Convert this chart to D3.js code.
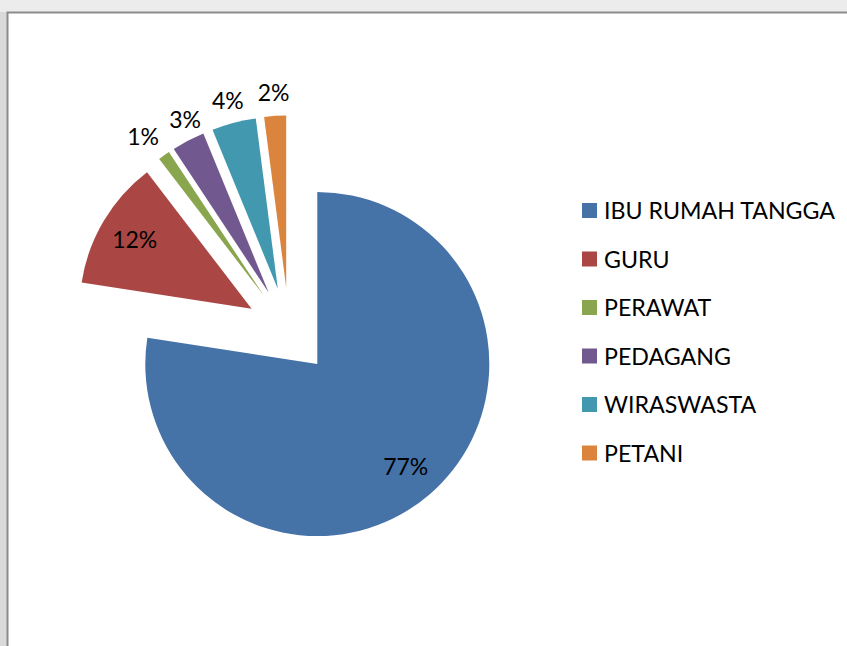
<!DOCTYPE html>
<html>
<head>
<meta charset="utf-8">
<script src="https://cdn.jsdelivr.net/npm/d3@7"></script>
<style>
  body { margin: 0; background: #e9e9e9; }
  svg { display: block; }
</style>
</head>
<body>
<div id="chart"></div>
<script>
const categories = ['IBU RUMAH TANGGA', 'GURU', 'PERAWAT', 'PEDAGANG', 'WIRASWASTA', 'PETANI'];
const values = [77.45, 12.15, 1.1, 3.1, 4.15, 2.05];
const colors = ['#4572a7', '#aa4643', '#89a54e', '#71588f', '#4198af', '#db843d'];

const width = 847, height = 646;
const radius = 172;
const explode = 43.5;
const cx = 289, cy = 331;

const svg = d3.select('#chart')
  .append('svg')
  .attr('width', width)
  .attr('height', height);

// page behind the chart frame
svg.append('rect')
  .attr('width', width).attr('height', height)
  .attr('fill', '#ececec');
svg.append('rect')
  .attr('x', 0).attr('y', 12).attr('width', 8).attr('height', height)
  .attr('fill', '#dadada');

// chart area with its border
svg.append('rect')
  .attr('x', 7.5).attr('y', 12.5)
  .attr('width', width + 10).attr('height', height + 10)
  .attr('fill', '#fff')
  .attr('stroke', '#8c8c8c')
  .attr('stroke-width', 2);

const total = d3.sum(values);
const data = categories.map((c, i) => ({ name: c, value: values[i], color: colors[i] }));

const pie = d3.pie()
  .sort(null)
  .value(d => d.value);

const arc = d3.arc()
  .innerRadius(0)
  .outerRadius(radius);

const graph = svg.append('g')
  .attr('transform', `translate(${cx}, ${cy})`);

const arcs = pie(data);

// every slice pushed out along its middle angle
const shift = d => {
  const a = (d.startAngle + d.endAngle) / 2;
  return [Math.sin(a) * explode, -Math.cos(a) * explode];
};

graph.selectAll('path')
  .data(arcs)
  .enter()
  .append('path')
  .attr('transform', d => `translate(${shift(d)})`)
  .attr('d', arc)
  .attr('fill', d => d.data.color);

// labels: big slices inside, small ones outside
const labels = arcs.map(d => {
  const a = (d.startAngle + d.endAngle) / 2;
  const inside = d.value / total > 0.1;
  const r = inside ? radius * 0.79 : radius + 23;
  const s = shift(d);
  return {
    inside,
    text: Math.round(d.value / total * 100) + '%',
    x: s[0] + Math.sin(a) * r,
    y: s[1] - Math.cos(a) * r
  };
});

// spread the outside labels so they don't crowd each other
const outer = labels.filter(l => !l.inside).sort((a, b) => a.x - b.x);
const minGap = 42;
for (let k = 0; k < 20; k++) {
  for (let i = 1; i < outer.length; i++) {
    const gap = outer[i].x - outer[i - 1].x;
    if (gap < minGap) {
      const push = (minGap - gap) / 2;
      outer[i - 1].x -= push;
      outer[i].x += push;
    }
  }
}

graph.selectAll('text')
  .data(labels)
  .enter()
  .append('text')
  .attr('x', d => d.x)
  .attr('y', d => d.y)
  .attr('dy', '0.35em')
  .attr('text-anchor', 'middle')
  .attr('font-family', 'Lato, sans-serif')
  .attr('font-size', 23)
  .attr('fill', '#000')
  .text(d => d.text);

// legend
const legend = svg.append('g')
  .attr('transform', 'translate(582, 211)');

const rows = legend.selectAll('g')
  .data(data)
  .enter()
  .append('g')
  .attr('transform', (d, i) => `translate(0, ${i * 48.5})`);

rows.append('rect')
  .attr('x', 0).attr('y', -8)
  .attr('width', 15).attr('height', 15)
  .attr('fill', d => d.color);

rows.append('text')
  .attr('x', 22)
  .attr('dy', '0.35em')
  .attr('font-family', 'Lato, sans-serif')
  .attr('font-size', 23.2)
  .attr('fill', '#000')
  .text(d => d.name);
</script>
</body>
</html>
